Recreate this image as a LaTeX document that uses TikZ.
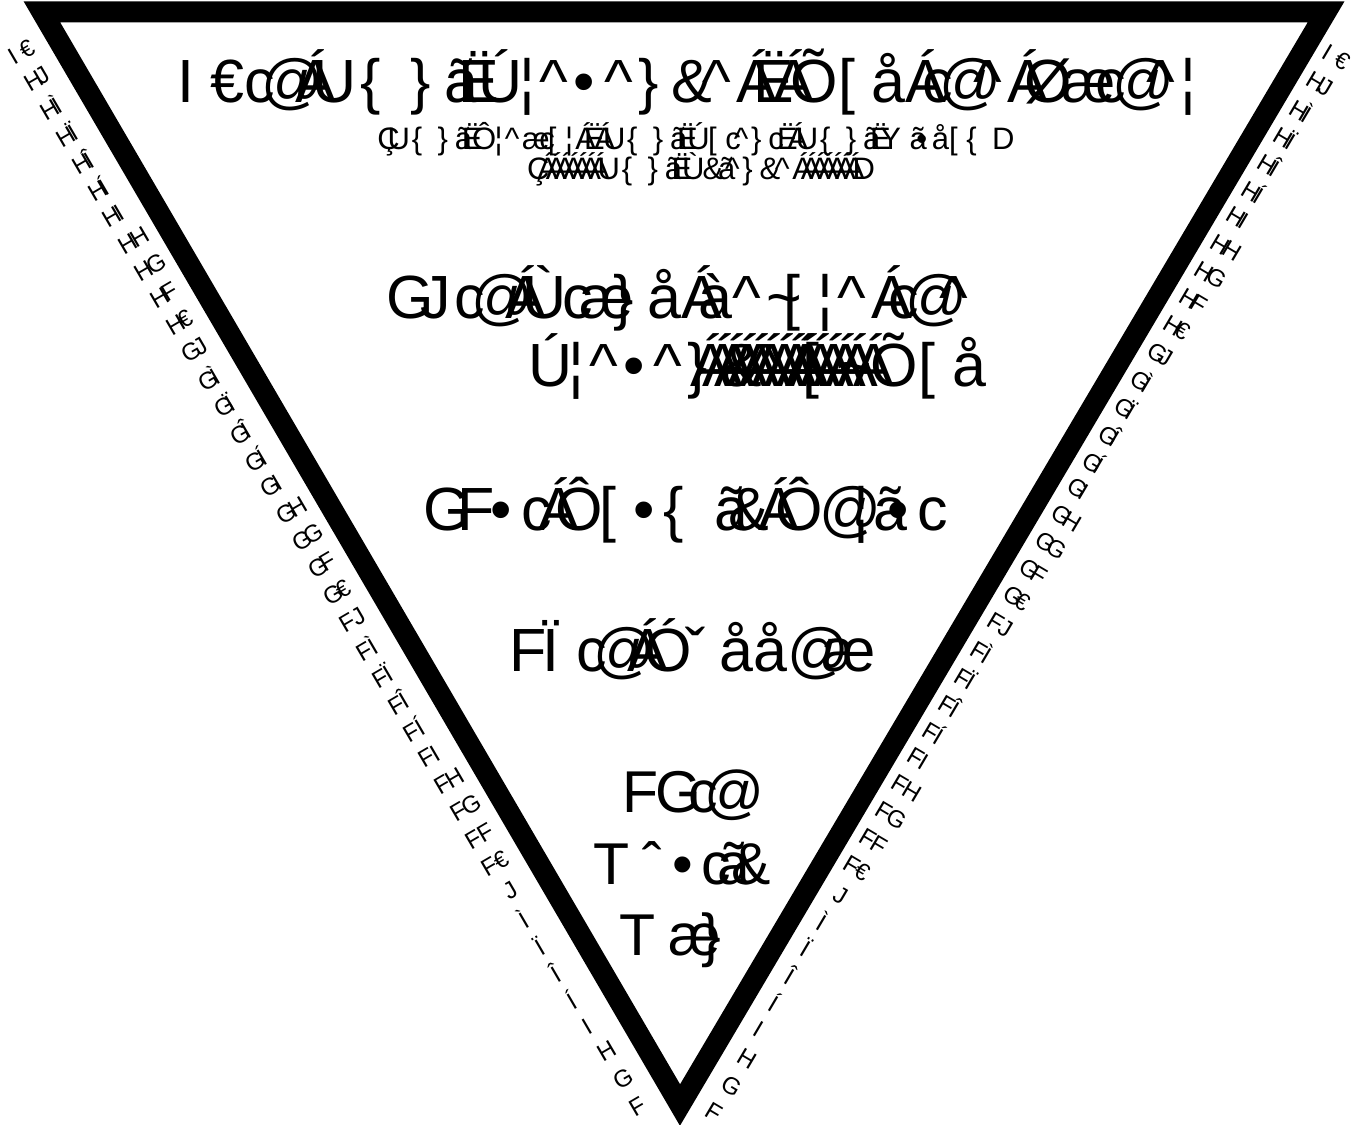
\documentclass[tikz,border=0pt]{standalone}
\usepackage{fontspec}
\setmainfont{Liberation Sans}
\makeatletter
\newsavebox\gb@box
\newcommand\defmap[3]{\expandafter\def\csname go@#1\endcsname{#2}\expandafter\def\csname gm@#1\endcsname{#3}}
\newcommand\gbox[1]{\expandafter\ifx\csname gm@#1\endcsname\relax #1\else\sbox\gb@box{\csname go@#1\endcsname}\makebox[\wd\gb@box][l]{\csname gm@#1\endcsname}\fi}
\newcommand\g@tf[1]{\@tfor\gch:=#1\do{\gbox\gch}}
\newcommand\garb[1]{\edef\g@list{#1}\expandafter\g@tf\expandafter{\g@list}}
\defmap{0}{0}{€}
\defmap{1}{1}{F}
\defmap{2}{2}{G}
\defmap{3}{3}{H}
\defmap{4}{4}{I}
\defmap{5}{5}{Í}
\defmap{6}{6}{Î}
\defmap{7}{7}{Ï}
\defmap{8}{8}{Ì}
\defmap{9}{9}{J}
\defmap{_}{\ }{Á}
\defmap{-}{-}{Ë}
\defmap{(}{(}{Ç}
\defmap{)}{)}{D}
\defmap{a}{a}{æ}
\defmap{b}{b}{à}
\defmap{c}{c}{\&}
\defmap{d}{d}{å}
\defmap{e}{e}{\textasciicircum}
\defmap{f}{f}{\textasciitilde}
\defmap{h}{h}{@}
\defmap{i}{i}{ã}
\defmap{m}{m}{\{}
\defmap{n}{n}{\}}
\defmap{o}{o}{[}
\defmap{r}{r}{¦}
\defmap{s}{s}{•}
\defmap{t}{t}{c}
\defmap{u}{u}{ˇ}
\defmap{y}{y}{ˆ}
\defmap{B}{B}{Ó}
\defmap{C}{C}{Ô}
\defmap{F}{F}{Ø}
\defmap{G}{G}{Õ}
\defmap{M}{M}{T}
\defmap{O}{O}{U}
\defmap{P}{P}{Ú}
\defmap{S}{S}{Ù}
\defmap{W}{W}{Y}
\makeatother
\newcommand\Acl{\makebox[12.3pt][l]{Á}}
\begin{document}
\begin{tikzpicture}[x=1pt,y=-1pt,
  big/.style={inner sep=0pt, anchor=base, font=\fontsize{61}{61}\selectfont},
  small/.style={inner sep=0pt, anchor=base, font=\fontsize{31}{31}\selectfont},
  mid/.style={inner sep=0pt, anchor=base, font=\fontsize{59}{59}\selectfont},
  lab/.style={inner sep=0pt, font=\fontsize{24}{24}\selectfont},
  frame/.style={line width=21pt, line join=miter, miter limit=10}]
\useasboundingbox (0,0) rectangle (1367,1124);
\fill[white] (0,0) rectangle (1367,1124);
\coordinate (TL) at (42,12);
\coordinate (TR) at (1326,12);
\coordinate (B) at (680,1105);
\draw[frame] (TL) -- (TR) -- (B) -- cycle;

\node[big] (t1) at (689,102) {\garb{40th_Omni-Presence_-_God_the_Father}};
\node[small] (t2) at (690,149) {\garb{(Omni-Creator_-_Omni-Potent-_Omni-Wisdom)}};
\node[small] (t3) at (695,179) {\garb{(_______Omni-Science_______)}};
\node[big] (t4) at (680,318) {\garb{29th_Stand_before_the}};
\node[big, anchor=base west] (t5) at (528,386) {\garb{Presence_of_God}};
\node[big, anchor=base west] (t5b) at (690,386) {\Acl\Acl\Acl\Acl\Acl\Acl\Acl\Acl\Acl\Acl\Acl\Acl\Acl};
\node[big] (t6) at (679,530) {\garb{21st_Cosmic_Christ}};
\node[big] (t7) at (682,671) {\garb{17th_Buddha}};
\node[mid] (t8) at (680,812) {\garb{12th}};
\node[mid] (t9) at (677,884) {\garb{Mystic}};
\node[mid] (t10) at (677,955) {\garb{Man}};

\foreach \k in {1,...,40} {
  \pgfmathsetmacro\sL{31.3*\k-10.9}
  \pgfmathsetmacro\xL{680-0.504*\sL-32.8}
  \pgfmathsetmacro\yL{1105-0.864*\sL+19.2}
  \node[lab, rotate=30.3] (L\k) at (\xL,\yL) {\garb{\k}};
  \pgfmathsetmacro\sR{31.4*\k-20.4}
  \pgfmathsetmacro\xR{680+0.509*\sR+27.6}
  \pgfmathsetmacro\yR{1105-0.861*\sR+16.3}
  \node[lab, rotate=-30.6] (R\k) at (\xR,\yR) {\garb{\k}};
}
\end{tikzpicture}
\end{document}
